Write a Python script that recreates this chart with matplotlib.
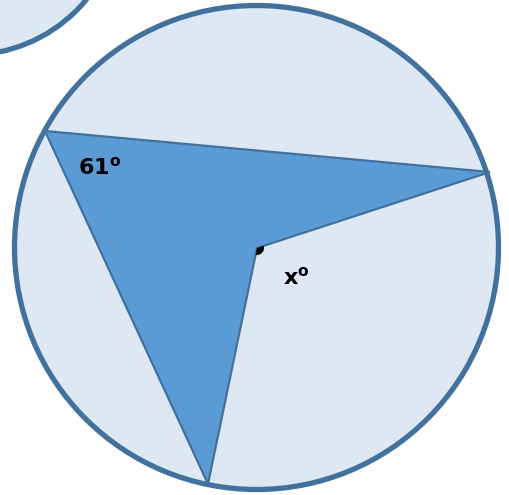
import matplotlib
matplotlib.use("Agg")
import matplotlib.pyplot as plt
from matplotlib.patches import Circle, Polygon, Wedge
import numpy as np

# Geometry (pixel coordinates of the diagram)
main_center = (256.5, 247.5)
main_radius = 242
small_center = (-31, -97)
small_radius = 152
quad_x = [45, 490, 257, 208]
quad_y = [131, 172, 248, 484]
angle_labels = ["61", "x"]
label_x = [78, 283]
label_y = [167, 277]

light = "#dde8f4"
edge = "#41719c"
fill = "#5b9bd5"

fig = plt.figure(figsize=(5.10, 4.95), dpi=100)
ax = fig.add_axes([0, 0, 1, 1])
ax.set_xlim(0, 510)
ax.set_ylim(495, 0)
ax.set_aspect("equal")
ax.axis("off")

ax.add_patch(Circle(small_center, small_radius, facecolor=light, edgecolor=edge, lw=3.8))
ax.add_patch(Circle(main_center, main_radius, facecolor=light, edgecolor=edge, lw=3.8))
ax.add_patch(Polygon(np.column_stack([quad_x, quad_y]), closed=True,
                     facecolor=fill, edgecolor=edge, lw=1.6, joinstyle="miter"))

# small angle mark at the centre vertex
cx, cy = quad_x[2], quad_y[2]
a1 = np.degrees(np.arctan2(quad_y[1] - cy, quad_x[1] - cx))
a2 = np.degrees(np.arctan2(quad_y[3] - cy, quad_x[3] - cx))
ax.add_patch(Wedge((cx, cy), 7, a1, a2, facecolor="black", edgecolor="none"))

for t, x, y in zip(angle_labels, label_x, label_y):
    ax.text(x, y, t + r"$^{\mathregular{o}}$", fontsize=16, fontweight="bold",
            family="DejaVu Sans", ha="left", va="center", color="black")

fig.savefig("out.png", dpi=100)
